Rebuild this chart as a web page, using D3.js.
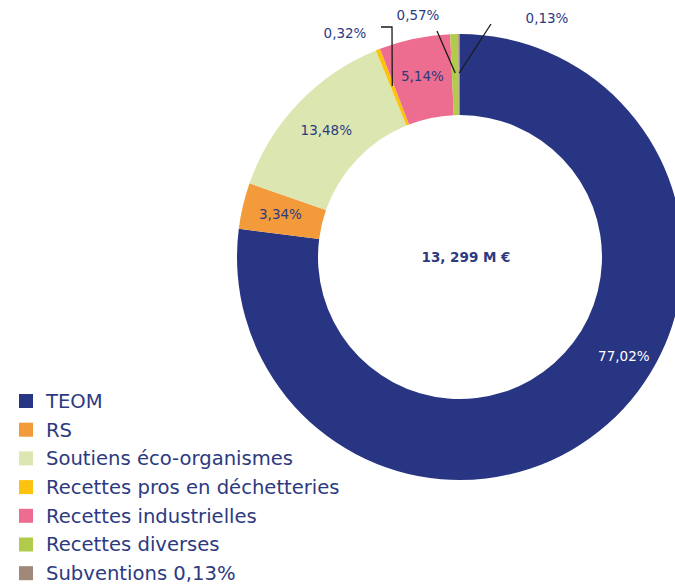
<!DOCTYPE html>
<html lang="fr">
<head>
<meta charset="UTF-8" />
<script src="https://cdnjs.cloudflare.com/ajax/libs/d3/7.8.5/d3.min.js"></script>
<style>
  body { margin: 0; background: #fff; }
  text { font-family: "DejaVu Sans", sans-serif; fill: #2d3a7f; }
</style>
</head>
<body>
<div id="chart"></div>
<script>
  // parts of the budget (%), clockwise from 12 o'clock
  const categories = ["TEOM", "RS", "Soutiens éco-organismes", "Recettes pros en déchetteries",
    "Recettes industrielles", "Recettes diverses", "Subventions"];
  const values = [77.02, 3.34, 13.48, 0.32, 5.14, 0.57, 0.13];
  const valueLabels = ["77,02%", "3,34%", "13,48%", "0,32%", "5,14%", "0,57%", "0,13%"];
  const legendLabels = ["TEOM", "RS", "Soutiens éco-organismes", "Recettes pros en déchetteries",
    "Recettes industrielles", "Recettes diverses", "Subventions 0,13%"];
  const colors = ["#283583", "#f39a3a", "#dce6b0", "#fdc20e", "#ec6d8f", "#b1cb4a", "#a08878"];
  const total = "13, 299 M €";

  const width = 675, height = 587;
  const cx = 460, cy = 257, outerR = 223, innerR = 142;

  const svg = d3.select("#chart").append("svg")
    .attr("width", width).attr("height", height);

  const color = d3.scaleOrdinal().domain(categories).range(colors);

  const pie = d3.pie().sort(null).value(d => d.value);
  const data = categories.map((c, i) => ({ name: c, value: values[i], label: valueLabels[i] }));
  const arcs = pie(data);

  const arc = d3.arc().innerRadius(innerR).outerRadius(outerR);
  const g = svg.append("g").attr("transform", `translate(${cx},${cy})`);

  g.selectAll("path.slice")
    .data(arcs)
    .enter().append("path")
    .attr("class", "slice")
    .attr("d", arc)
    .attr("fill", d => color(d.data.name));

  // center total
  g.append("text")
    .attr("x", 6).attr("y", 5)
    .attr("text-anchor", "middle")
    .style("font-size", "13.5px")
    .style("font-weight", "bold")
    .text(total);

  const labelR = (innerR + outerR) / 2 + 2;
  const polar = (a, r) => [Math.sin(a) * r, -Math.cos(a) * r];

  // inside labels (big slices)
  arcs.forEach((d, i) => {
    if (d.data.value < 1) return;
    let a = (d.startAngle + d.endAngle) / 2;
    if (i === 0) a = d.startAngle + (d.endAngle - d.startAngle) * 0.437; // biggest slice label sits lower
    const [x, y] = polar(a, labelR + (i === 0 ? 7 : 0));
    g.append("text")
      .attr("x", x).attr("y", y)
      .attr("dy", "0.35em")
      .attr("text-anchor", "middle")
      .style("font-size", "13.5px")
      .style("fill", i === 0 ? "#fff" : "#2d3a7f")
      .text(d.data.label);
  });

  // outside labels with leader lines (small slices)
  const outside = {
    3: { bend: [-68, -230], end: [-79, -230], text: [-115, -224] },
    5: { end: [-23, -226], text: [-42, -242] },
    6: { end: [31, -233], text: [87, -239] }
  };
  arcs.forEach((d, i) => {
    const o = outside[i];
    if (!o) return;
    const a = (d.startAngle + d.endAngle) / 2;
    const start = polar(a, 184);
    const pts = o.bend ? [start, o.bend, o.end] : [start, o.end];
    g.append("path")
      .attr("d", d3.line()(pts))
      .attr("fill", "none")
      .attr("stroke", "#1a1a1a")
      .attr("stroke-width", 1.3);
    g.append("text")
      .attr("x", o.text[0]).attr("y", o.text[1])
      .attr("dy", "0.35em")
      .attr("text-anchor", "middle")
      .style("font-size", "13.5px")
      .text(d.data.label);
  });

  // legend
  const legend = svg.selectAll("g.legend")
    .data(legendLabels)
    .enter().append("g")
    .attr("class", "legend")
    .attr("transform", (d, i) => `translate(19,${401 + i * 28.7})`);

  legend.append("rect")
    .attr("y", -7).attr("width", 14).attr("height", 14)
    .attr("fill", (d, i) => colors[i]);

  legend.append("text")
    .attr("x", 27).attr("dy", "0.35em")
    .style("font-size", "19.6px")
    .text(d => d);
</script>
</body>
</html>
